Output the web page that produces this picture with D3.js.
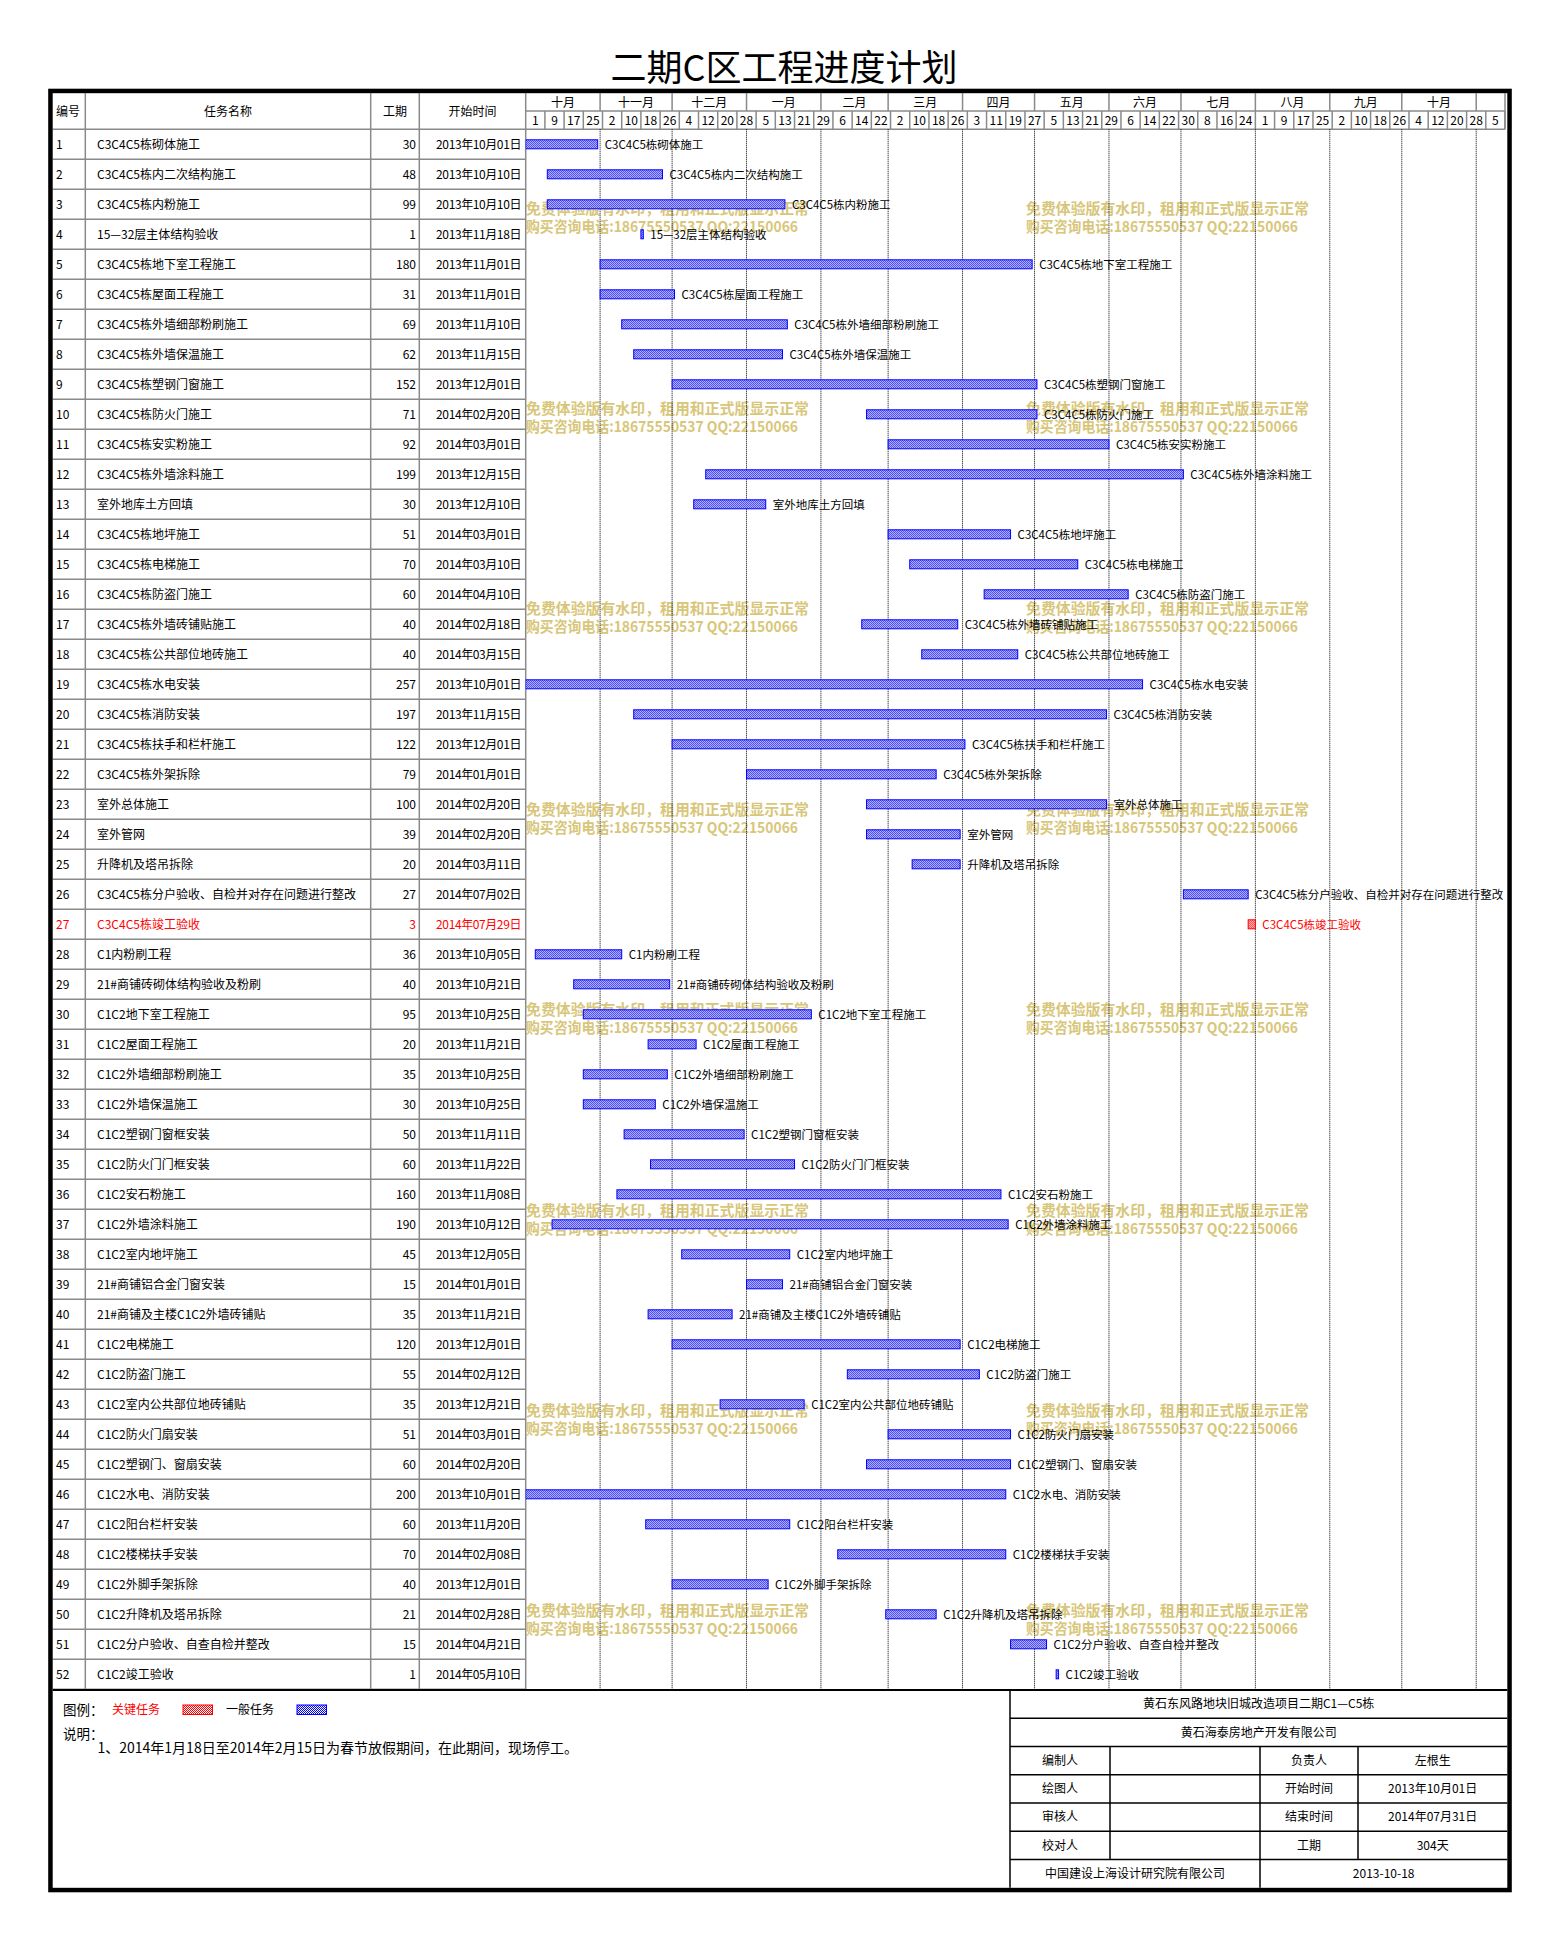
<!DOCTYPE html>
<html>
<head>
<meta charset="utf-8">
<script src="https://cdn.jsdelivr.net/npm/d3@7/dist/d3.min.js"></script>
<style>
  body { margin: 0; background: #fff; }
  svg text { font-family: "Noto Sans CJK SC", sans-serif; }
</style>
</head>
<body>
<svg id="chart"></svg>
<script>
'use strict';

// - chart data
const chartTitle = '二期C区工程进度计划';

const taskNames = [
  'C3C4C5栋砌体施工', 'C3C4C5栋内二次结构施工', 'C3C4C5栋内粉施工', '15—32层主体结构验收',
  'C3C4C5栋地下室工程施工', 'C3C4C5栋屋面工程施工', 'C3C4C5栋外墙细部粉刷施工', 'C3C4C5栋外墙保温施工',
  'C3C4C5栋塑钢门窗施工', 'C3C4C5栋防火门施工', 'C3C4C5栋安实粉施工', 'C3C4C5栋外墙涂料施工',
  '室外地库土方回填', 'C3C4C5栋地坪施工', 'C3C4C5栋电梯施工', 'C3C4C5栋防盗门施工',
  'C3C4C5栋外墙砖铺贴施工', 'C3C4C5栋公共部位地砖施工', 'C3C4C5栋水电安装', 'C3C4C5栋消防安装',
  'C3C4C5栋扶手和栏杆施工', 'C3C4C5栋外架拆除', '室外总体施工', '室外管网',
  '升降机及塔吊拆除', 'C3C4C5栋分户验收、自检并对存在问题进行整改', 'C3C4C5栋竣工验收', 'C1内粉刷工程',
  '21#商铺砖砌体结构验收及粉刷', 'C1C2地下室工程施工', 'C1C2屋面工程施工', 'C1C2外墙细部粉刷施工',
  'C1C2外墙保温施工', 'C1C2塑钢门窗框安装', 'C1C2防火门门框安装', 'C1C2安石粉施工',
  'C1C2外墙涂料施工', 'C1C2室内地坪施工', '21#商铺铝合金门窗安装', '21#商铺及主楼C1C2外墙砖铺贴',
  'C1C2电梯施工', 'C1C2防盗门施工', 'C1C2室内公共部位地砖铺贴', 'C1C2防火门扇安装',
  'C1C2塑钢门、窗扇安装', 'C1C2水电、消防安装', 'C1C2阳台栏杆安装', 'C1C2楼梯扶手安装',
  'C1C2外脚手架拆除', 'C1C2升降机及塔吊拆除', 'C1C2分户验收、自查自检并整改', 'C1C2竣工验收'
];

const durations = [
  30, 48, 99, 1, 180, 31, 69, 62, 152, 71, 92, 199, 30,
  51, 70, 60, 40, 40, 257, 197, 122, 79, 100, 39, 20, 27,
  3, 36, 40, 95, 20, 35, 30, 50, 60, 160, 190, 45, 15,
  35, 120, 55, 35, 51, 60, 200, 60, 70, 40, 21, 15, 1
];

const startDates = [
  '2013-10-01', '2013-10-10', '2013-10-10', '2013-11-18', '2013-11-01', '2013-11-01', '2013-11-10',
  '2013-11-15', '2013-12-01', '2014-02-20', '2014-03-01', '2013-12-15', '2013-12-10', '2014-03-01',
  '2014-03-10', '2014-04-10', '2014-02-18', '2014-03-15', '2013-10-01', '2013-11-15', '2013-12-01',
  '2014-01-01', '2014-02-20', '2014-02-20', '2014-03-11', '2014-07-02', '2014-07-29', '2013-10-05',
  '2013-10-21', '2013-10-25', '2013-11-21', '2013-10-25', '2013-10-25', '2013-11-11', '2013-11-22',
  '2013-11-08', '2013-10-12', '2013-12-05', '2014-01-01', '2013-11-21', '2013-12-01', '2014-02-12',
  '2013-12-21', '2014-03-01', '2014-02-20', '2013-10-01', '2013-11-20', '2014-02-08', '2013-12-01',
  '2014-02-28', '2014-04-21', '2014-05-10'
];

const criticalTasks = [27]; // task numbers drawn in red

const headerLabels = ['编号', '任务名称', '工期', '开始时间'];
const monthLabels = ['十月', '十一月', '十二月', '一月', '二月', '三月', '四月',
                     '五月', '六月', '七月', '八月', '九月', '十月', ''];
const timelineStart = '2013-10-01';
const timelineEnd = '2014-11-13';

const legendLabels = ['关键任务', '一般任务'];
const notes = ['1、2014年1月18日至2014年2月15日为春节放假期间，在此期间，现场停工。'];

const projectName = '黄石东风路地块旧城改造项目二期C1—C5栋';
const ownerName = '黄石海泰房地产开发有限公司';
const signRoles = ['编制人', '绘图人', '审核人', '校对人'];
const infoKeys = ['负责人', '开始时间', '结束时间', '工期'];
const infoValues = ['左根生', '2013年10月01日', '2014年07月31日', '304天'];
const designer = '中国建设上海设计研究院有限公司';
const drawDate = '2013-10-18';

const watermarkLines = ['免费体验版有水印，租用和正式版显示正常', '购买咨询电话:18675550537 QQ:22150066'];

// - layout
const W = 1558, H = 1939;
const parseDate = d3.utcParse('%Y-%m-%d');
const fmtDate = d3.utcFormat('%Y年%m月%d日');

const svg = d3.select('#chart').attr('width', W).attr('height', H);

const frame = { x0: 52.7, x1: 1507.3, y0: 93.2, y1: 1887.8 };
const cols = [frame.x0, 85.3, 370.7, 419.3, 525.7];
const hdr = { top: frame.y0, mid: 111, bot: 129.3 };
const rowH = 30;
const chartBottom = hdr.bot + rowH * taskNames.length;
const gridColor = '#8a8a8a';

const tStart = parseDate(timelineStart), tEnd = parseDate(timelineEnd);
const x = d3.scaleUtc().domain([tStart, tEnd]).range([525.7, 1505]);
const y = d3.scaleBand().domain(d3.range(taskNames.length)).range([hdr.bot, chartBottom]);

const tasks = taskNames.map((name, i) => {
  const start = parseDate(startDates[i]);
  return {
    id: i + 1, name: name, dur: durations[i], start: start,
    end: d3.utcDay.offset(start, durations[i]),
    critical: criticalTasks.includes(i + 1)
  };
});

// - hatch patterns for the bars
const defs = svg.append('defs');
[['hatchBlue', '#0000ff'], ['hatchRed', '#ff0000']].forEach(([id, c]) => {
  const p = defs.append('pattern').attr('id', id)
    .attr('width', 2).attr('height', 2).attr('patternUnits', 'userSpaceOnUse');
  p.append('rect').attr('width', 2).attr('height', 2).attr('fill', '#fff');
  p.append('rect').attr('width', 1).attr('height', 1).attr('fill', c);
  p.append('rect').attr('x', 1).attr('y', 1).attr('width', 1).attr('height', 1).attr('fill', c);
});
defs.append('clipPath').attr('id', 'plotClip').append('rect')
  .attr('x', cols[4]).attr('y', hdr.bot).attr('width', frame.x1 - cols[4]).attr('height', chartBottom - hdr.bot);

// - title
svg.append('text').attr('x', 784).attr('y', 81).attr('text-anchor', 'middle')
  .attr('font-size', 36).attr('fill', '#000').text(chartTitle);

// - watermark (sits beneath the bars)
const wm = svg.append('g').attr('fill', '#d8c67a').attr('font-weight', 'bold').attr('font-size', 15);
d3.range(8).forEach(k => {
  [526, 1026].forEach(wx => {
    const wy = 208 + 200.4 * k;
    wm.append('text').attr('x', wx).attr('y', wy + 5.5)
      .attr('textLength', 283).attr('lengthAdjust', 'spacingAndGlyphs').text(watermarkLines[0]);
    wm.append('text').attr('x', wx).attr('y', wy + 23.5)
      .attr('textLength', 272).attr('lengthAdjust', 'spacingAndGlyphs').text(watermarkLines[1]);
  });
});

// - header
const head = svg.append('g').attr('font-size', 12).attr('fill', '#000');
head.append('text').attr('x', 56).attr('y', 115.5).text(headerLabels[0]);
[1, 2, 3].forEach(i => {
  head.append('text').attr('x', (cols[i] + cols[i + 1]) / 2).attr('y', 115.5)
    .attr('text-anchor', 'middle').text(headerLabels[i]);
});

const months = d3.utcMonth.range(tStart, tEnd);
months.forEach((m, i) => {
  const mx0 = x(m), mx1 = i + 1 < months.length ? x(months[i + 1]) : x(tEnd);
  head.append('text').attr('x', (mx0 + mx1) / 2).attr('y', 106.5)
    .attr('text-anchor', 'middle').text(monthLabels[i]);
  if (i > 0)
    svg.append('line').attr('x1', mx0).attr('x2', mx0).attr('y1', hdr.top).attr('y2', hdr.mid)
      .attr('stroke', gridColor).attr('stroke-width', 1.5);
});

const dayTicks = d3.utcDay.range(tStart, tEnd).filter((d, i) => i % 8 === 0);
dayTicks.forEach((d, i) => {
  const dx1 = i + 1 < dayTicks.length ? x(dayTicks[i + 1]) : x(tEnd);
  head.append('text').attr('x', (x(d) + dx1) / 2).attr('y', 124.5)
    .attr('text-anchor', 'middle').text(d.getUTCDate());
  svg.append('line').attr('x1', dx1).attr('x2', dx1).attr('y1', hdr.mid).attr('y2', hdr.bot)
    .attr('stroke', gridColor).attr('stroke-width', 1.5);
});

// - grid
const grid = svg.append('g').attr('stroke', gridColor).attr('stroke-width', 1.5);
grid.append('line').attr('x1', cols[4]).attr('x2', x(tEnd)).attr('y1', hdr.mid).attr('y2', hdr.mid);
grid.append('line').attr('x1', frame.x0).attr('x2', x(tEnd)).attr('y1', hdr.bot).attr('y2', hdr.bot);
cols.slice(1).forEach(cx => {
  grid.append('line').attr('x1', cx).attr('x2', cx).attr('y1', hdr.top).attr('y2', chartBottom);
});
tasks.forEach((t, i) => {
  grid.append('line').attr('x1', frame.x0).attr('x2', cols[4])
    .attr('y1', y(i) + rowH).attr('y2', y(i) + rowH);
});
grid.append('line').attr('x1', x(tEnd)).attr('x2', x(tEnd)).attr('y1', hdr.top).attr('y2', hdr.bot);

// dotted month lines in the plot area
months.slice(1).forEach(m => {
  svg.append('line').attr('x1', x(m)).attr('x2', x(m)).attr('y1', hdr.bot).attr('y2', chartBottom)
    .attr('stroke', '#000').attr('stroke-width', 1).attr('stroke-dasharray', '1,1');
});

// - table rows
const rows = svg.append('g').selectAll('g').data(tasks).join('g')
  .attr('transform', (t, i) => `translate(0, ${y(i) + rowH / 2})`)
  .attr('fill', t => t.critical ? '#ff0000' : '#000');

rows.append('text').attr('x', 56).attr('y', 4.5).attr('font-size', 12).text(t => t.id);
rows.append('text').attr('x', 97).attr('y', 4.5).attr('font-size', 12).text(t => t.name);
rows.append('text').attr('x', 416).attr('y', 4.5).attr('font-size', 12)
  .attr('text-anchor', 'end').text(t => t.dur);
rows.append('text').attr('x', 521).attr('y', 4.5).attr('font-size', 12)
  .attr('letter-spacing', -0.4).attr('text-anchor', 'end').text(t => fmtDate(t.start));

// - bars and their labels
const plot = svg.append('g').attr('clip-path', 'url(#plotClip)');
const bars = plot.selectAll('g').data(tasks).join('g')
  .attr('transform', (t, i) => `translate(0, ${y(i) + rowH / 2})`);

bars.append('rect')
  .attr('x', t => x(t.start))
  .attr('y', -4.5)
  .attr('width', t => Math.max(1, x(t.end) - x(t.start)))
  .attr('height', 9)
  .attr('fill', t => t.critical ? 'url(#hatchRed)' : 'url(#hatchBlue)')
  .attr('stroke', t => t.critical ? '#ff0000' : '#0000ff')
  .attr('stroke-width', 1);

bars.append('text')
  .attr('x', t => x(t.end) + 7)
  .attr('y', 4.3)
  .attr('font-size', 11.5)
  .attr('fill', t => t.critical ? '#ff0000' : '#000')
  .text(t => t.name);

// - bottom line of the chart
svg.append('line').attr('x1', frame.x0).attr('x2', frame.x1).attr('y1', chartBottom + 0.7).attr('y2', chartBottom + 0.7)
  .attr('stroke', '#000').attr('stroke-width', 2);

// - legend and notes
const leg = svg.append('g').attr('fill', '#000');
leg.append('text').attr('x', 63).attr('y', 1715).attr('font-size', 13.5).text('图例：');
leg.append('text').attr('x', 112).attr('y', 1714).attr('font-size', 12).attr('fill', '#ff0000').text(legendLabels[0]);
leg.append('rect').attr('x', 183).attr('y', 1705).attr('width', 29.5).attr('height', 9.5)
  .attr('fill', 'url(#hatchRed)').attr('stroke', '#ff0000');
leg.append('text').attr('x', 226).attr('y', 1714).attr('font-size', 12).text(legendLabels[1]);
leg.append('rect').attr('x', 297).attr('y', 1705).attr('width', 29.5).attr('height', 9.5)
  .attr('fill', 'url(#hatchBlue)').attr('stroke', '#0000ff');
leg.append('text').attr('x', 63).attr('y', 1739).attr('font-size', 13.5).text('说明：');
notes.forEach((n, i) => {
  leg.append('text').attr('x', 97.5).attr('y', 1753 + i * 18).attr('font-size', 14).text(n);
});

// - title block at bottom right
const ib = { x: [1010, 1110, 1260, 1358, frame.x1], y0: chartBottom + 0.7, rh: (frame.y1 - chartBottom - 0.7) / 7 };
const info = svg.append('g');
const iy = k => ib.y0 + k * ib.rh;
info.append('line').attr('x1', ib.x[0]).attr('x2', ib.x[0]).attr('y1', iy(0)).attr('y2', iy(7))
  .attr('stroke', '#000').attr('stroke-width', 1.5);
d3.range(1, 7).forEach(k => {
  info.append('line').attr('x1', ib.x[0]).attr('x2', ib.x[4]).attr('y1', iy(k)).attr('y2', iy(k))
    .attr('stroke', '#000').attr('stroke-width', 1.5);
});
[1, 2, 3].forEach(c => {
  info.append('line').attr('x1', ib.x[c]).attr('x2', ib.x[c]).attr('y1', iy(2)).attr('y2', iy(6))
    .attr('stroke', '#000').attr('stroke-width', 1.5);
});
info.append('line').attr('x1', ib.x[2]).attr('x2', ib.x[2]).attr('y1', iy(6)).attr('y2', iy(7))
  .attr('stroke', '#000').attr('stroke-width', 1.5);

const cell = (cx0, cx1, k, s) => info.append('text')
  .attr('x', (cx0 + cx1) / 2).attr('y', iy(k) + ib.rh / 2 + 4.3)
  .attr('text-anchor', 'middle').attr('font-size', 12).attr('fill', '#000').text(s);

cell(ib.x[0], ib.x[4], 0, projectName);
cell(ib.x[0], ib.x[4], 1, ownerName);
signRoles.forEach((r, i) => {
  cell(ib.x[0], ib.x[1], i + 2, r);
  cell(ib.x[2], ib.x[3], i + 2, infoKeys[i]);
  cell(ib.x[3], ib.x[4], i + 2, infoValues[i]);
});
cell(ib.x[0], ib.x[2], 6, designer);
cell(ib.x[2], ib.x[4], 6, drawDate);

// - outer frame
svg.append('rect').attr('x', 50.45).attr('y', 90.95)
  .attr('width', frame.x1 - frame.x0 + 4.5).attr('height', frame.y1 - frame.y0 + 4.5)
  .attr('fill', 'none').attr('stroke', '#000').attr('stroke-width', 4.5);
</script>
</body>
</html>
